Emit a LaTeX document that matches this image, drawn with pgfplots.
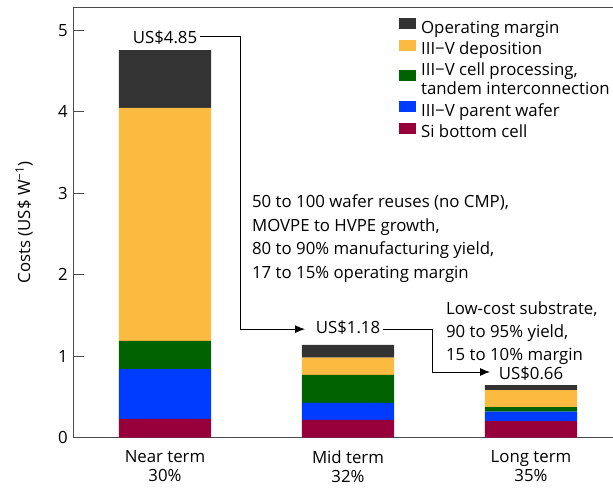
\documentclass[border=0pt]{standalone}
\usepackage{fontspec}
\setmainfont{Open Sans}
\usepackage{pgfplots}
\pgfplotsset{compat=1.18}
\usetikzlibrary{arrows.meta,calc}
\definecolor{cmargin}{HTML}{333333}
\definecolor{cdep}{HTML}{FBBB40}
\definecolor{ccell}{HTML}{006300}
\definecolor{cwafer}{HTML}{003CFF}
\definecolor{csi}{HTML}{97003B}
\begin{document}
\fontsize{16.8}{19}\selectfont
\begin{tikzpicture}
\begin{axis}[
  name=ax,
  scale only axis, width=539.5pt, height=430.2pt,
  xmin=-0.5, xmax=2.448, ymin=0, ymax=5.28,
  ybar stacked, bar width=0.503,
  axis x line*=box, axis y line*=left,
  axis line style={draw=black!70, line width=0.8pt},
  xtick={0,1,2},
  xticklabels={{Near term\\30\%},{Mid term\\32\%},{Long term\\35\%}},
  xticklabel style={align=center, yshift=-7pt},
  x tick style={draw=none},
  ytick={0,1,2,3,4,5},
  tick align=inside, major tick length=10pt,
  y tick style={draw=black!70, line width=0.8pt},
  /pgf/number format/assume math mode=true,
  ylabel={Costs (US\$ W\textsuperscript{\char"2212 1})},
  ylabel style={yshift=14pt},
  reverse legend,
  legend style={at={(axis cs:1.262,5.17)}, anchor=north west, draw=none, fill=none,
    cells={anchor=west, align=left}, row sep=1.8pt,
    /tikz/every odd column/.append style={column sep=3pt}},
  legend image code/.code={\fill[#1] (0pt,-1pt) rectangle (17pt,10pt);},
  every axis plot/.append style={draw=none},
]
\addplot[fill=csi] coordinates {(0,0.23) (1,0.215) (2,0.20)};
\addlegendentry{Si bottom cell}
\addplot[fill=cwafer] coordinates {(0,0.61) (1,0.21) (2,0.117)};
\addlegendentry{III\char"2212 V parent wafer}
\addplot[fill=ccell] coordinates {(0,0.345) (1,0.344) (2,0.057)};
\addlegendentry{III\char"2212 V cell processing,\\tandem interconnection}
\addplot[fill=cdep] coordinates {(0,2.86) (1,0.212) (2,0.209)};
\addlegendentry{III\char"2212 V deposition}
\addplot[fill=cmargin] coordinates {(0,0.71) (1,0.156) (2,0.061)};
\addlegendentry{Operating margin}

\node at (axis cs:0,4.91) {US\$4.85};
\draw[line width=0.9pt, -{Latex[length=10pt,width=8pt]}] (axis cs:0.19,4.925) -| (axis cs:0.41,1.33) -- (axis cs:0.765,1.33);
\node at (axis cs:1,1.344) {US\$1.18};
\draw[line width=0.9pt, -{Latex[length=10pt,width=8pt]}] (axis cs:1.19,1.33) -| (axis cs:1.464,0.804) -- (axis cs:1.776,0.804);
\node at (axis cs:2,0.79) {US\$0.66};
\node[anchor=north west, align=left, inner sep=0pt, font=\fontsize{16.8}{23.5}\selectfont] at (axis cs:0.475,2.98)
  {50 to 100 wafer reuses (no CMP),\\MOVPE to HVPE growth,\\80 to 90\% manufacturing yield,\\17 to 15\% operating margin};
\node[anchor=north west, align=left, inner sep=0pt, font=\fontsize{16.8}{23}\selectfont] at (axis cs:1.535,1.67)
  {Low-cost substrate,\\90 to 95\% yield,\\15 to 10\% margin};
\end{axis}
\pgfresetboundingbox
\path[use as bounding box] ($(ax.south west)+(-73.5pt,-50.5pt)$) rectangle ($(ax.north east)+(0pt,7.3pt)$);
\end{tikzpicture}
\end{document}
